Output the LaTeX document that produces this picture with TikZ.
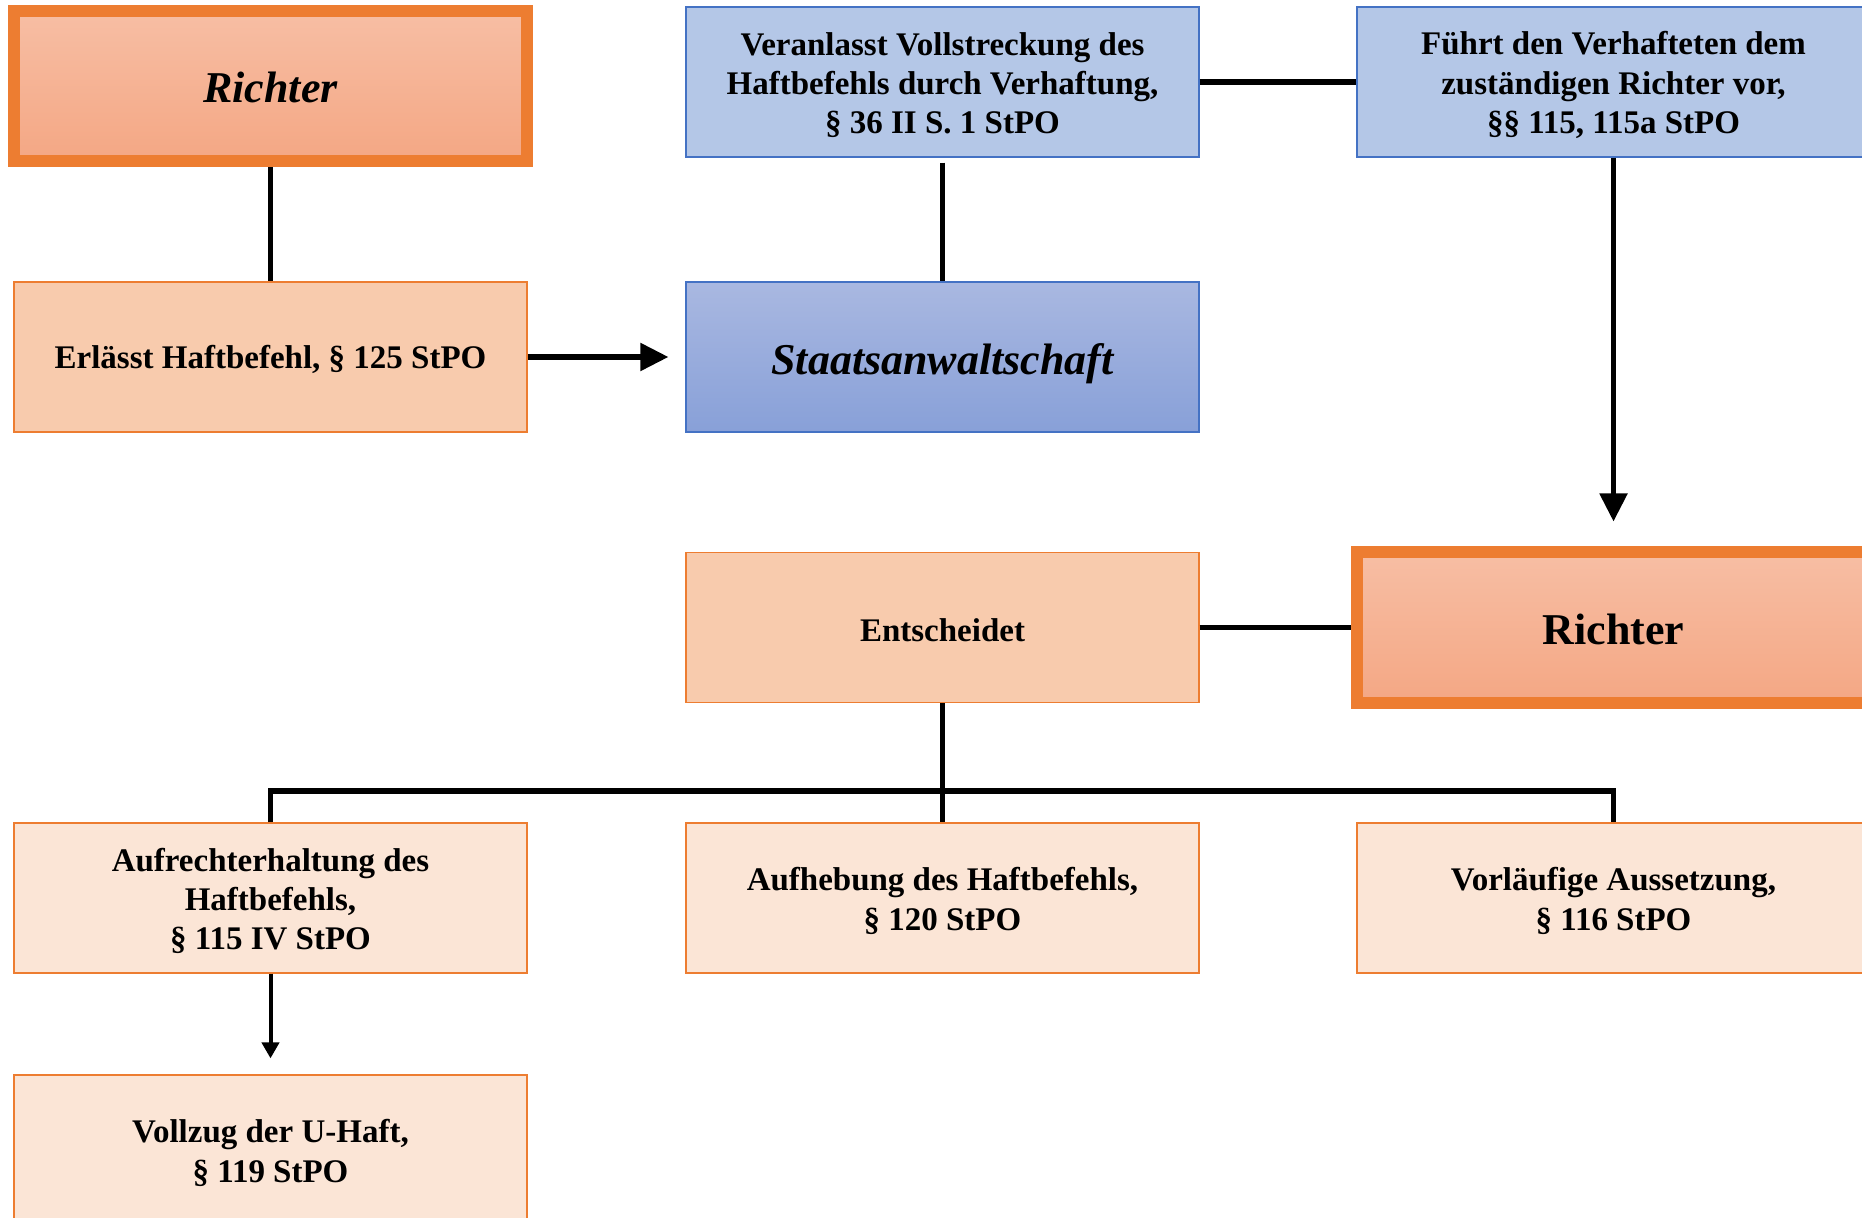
\documentclass[tikz,border=0pt]{standalone}
\usepackage{fontspec}
\setmainfont{Liberation Serif}
\usetikzlibrary{arrows.meta}
\definecolor{orng}{HTML}{ED7D31}
\definecolor{blu}{HTML}{4472C4}
\definecolor{orngmid}{HTML}{F8CBAD}
\definecolor{orngpale}{HTML}{FBE5D6}
\definecolor{blulight}{HTML}{B4C7E7}
\definecolor{richtop}{HTML}{F7BEA4}
\definecolor{richbot}{HTML}{F4A784}
\definecolor{sattop}{HTML}{A9B8E1}
\definecolor{satbot}{HTML}{88A0D8}
\begin{document}
\begin{tikzpicture}[x=0.5pt,y=-0.5pt,
  % box outline and fill; the wording sits in a centred label
  box/.style={rectangle, minimum width=256.5pt, minimum height=75pt,
    inner sep=0pt, line width=0.6pt},
  words/.style={align=flush center, text width=240pt, inner sep=0pt,
    font=\fontsize{16.5}{19.6}\selectfont\bfseries},
  bigwords/.style={words, font=\fontsize{22}{26}\selectfont\bfseries},
  says/.style 2 args={label={[words, yshift=#1]center:{#2}}},
  sayslarge/.style 2 args={label={[bigwords, yshift=#1]center:{#2}}},
  orangebox/.style={box, draw=orng, fill=orngmid},
  palebox/.style={box, draw=orng, fill=orngpale},
  bluebox/.style={box, draw=blu, fill=blulight},
  judgebox/.style={box, draw=orng, line width=6pt,
    top color=richtop, bottom color=richbot},
  prosbox/.style={box, draw=blu, top color=sattop, bottom color=satbot},
  link/.style={line width=2.6pt, black},
  bigarrow/.style={link, -{Triangle[length=14pt,width=13.5pt]}},
  smallarrow/.style={line width=2pt, black, -{Triangle[length=8pt,width=8.5pt]}}
]
\useasboundingbox (0,0) rectangle (1862,1218);
\clip (0,0) rectangle (1862,1218);

% first row
\node[judgebox, sayslarge={-0.6pt}{\itshape Richter}] (richter1) at (270.5,86) {};
\node[bluebox, says={-1.5pt}{Veranlasst Vollstreckung des\\Haftbefehls durch Verhaftung,\\§ 36 II S. 1 StPO}]
  (veranlasst) at (942.5,82) {};
\node[bluebox, says={-1.5pt}{Führt den Verhafteten dem\\zuständigen Richter vor,\\§§ 115, 115a StPO}]
  (fuehrt) at (1613.5,82) {};

% second row
\node[orangebox, says={-1.2pt}{Erlässt Haftbefehl, § 125 StPO}] (erlass) at (270.5,357) {};
\node[prosbox, sayslarge={-3.5pt}{\itshape Staatsanwaltschaft}] (staat) at (942.5,357) {};

% third row
\node[orangebox, says={-1.5pt}{Entscheidet}] (entsch) at (942.5,627.5) {};
\node[judgebox, sayslarge={-1.2pt}{Richter}] (richter2) at (1613.5,627.5) {};

% decisions
\node[palebox, says={-1.5pt}{Aufrechterhaltung des\\Haftbefehls,\\§ 115 IV StPO}]
  (aufrecht) at (270.5,898) {};
\node[palebox, says={-1.5pt}{Aufhebung des Haftbefehls,\\§ 120 StPO}]
  (aufheb) at (942.5,898) {};
\node[palebox, says={-1.5pt}{Vorläufige Aussetzung,\\§ 116 StPO}]
  (vorl) at (1613.5,898) {};
\node[palebox, says={-1.5pt}{Vollzug der U-Haft,\\§ 119 StPO}]
  (vollzug) at (270.5,1150) {};

% connectors
\draw[link] (richter1.south) -- (erlass.north);
\draw[bigarrow, shorten >=8.5pt] (erlass.east) -- (staat.west);
\draw[link, shorten <=2.5pt] (veranlasst.south) -- (staat.north);
\draw[link] (veranlasst.east) -- (fuehrt.west);
\draw[bigarrow, shorten >=12.5pt] (fuehrt.south) -- (richter2.north);
\draw[link] (entsch.east) -- (richter2.west);
\draw[link] (entsch.south) -- (aufheb.north);
\coordinate (bar) at (942.5,791);
\draw[link] (aufrecht.north) |- (bar) -| (vorl.north);
\draw[smallarrow, shorten >=8pt] (aufrecht.south) -- (vollzug.north);
\end{tikzpicture}
\end{document}
